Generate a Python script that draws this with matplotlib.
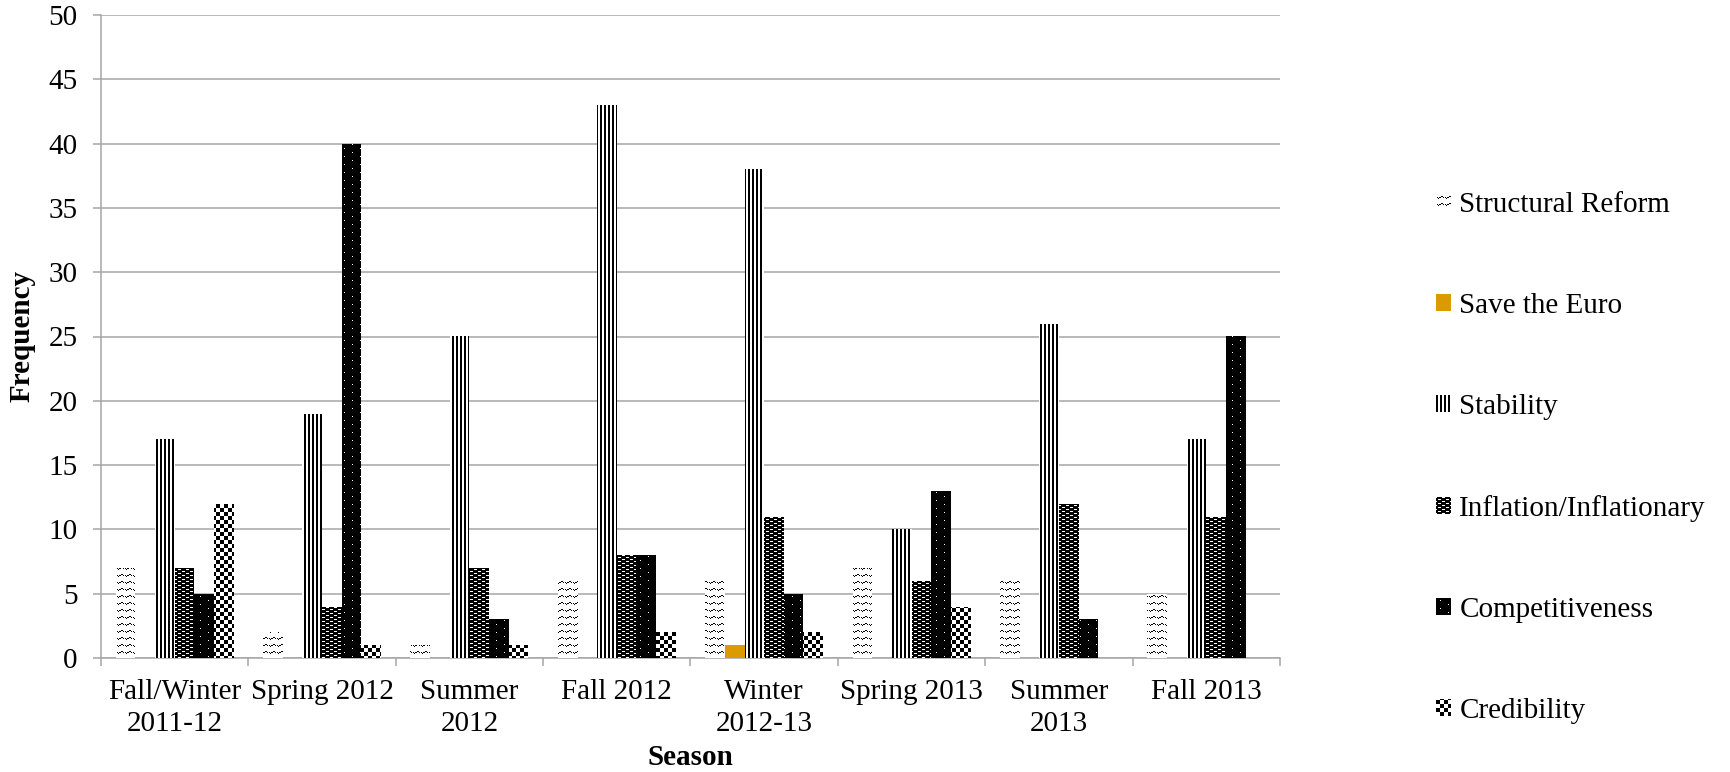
import numpy as np
import matplotlib
matplotlib.use("Agg")
import matplotlib.pyplot as plt
from matplotlib.patches import Patch

# ---- data -------------------------------------------------------------
seasons = ["Fall/Winter\n2011-12", "Spring 2012", "Summer\n2012", "Fall 2012",
           "Winter\n2012-13", "Spring 2013", "Summer\n2013", "Fall 2013"]
series_names = ["Structural Reform", "Save the Euro", "Stability",
                "Inflation/Inflationary", "Competitiveness", "Credibility"]
structural_reform = [7, 2, 1, 6, 6, 7, 6, 5]
save_the_euro = [0, 0, 0, 0, 1, 0, 0, 0]
stability = [17, 19, 25, 43, 38, 10, 26, 17]
inflation = [7, 4, 7, 8, 11, 6, 12, 11]
competitiveness = [5, 40, 3, 8, 5, 13, 3, 25]
credibility = [12, 1, 1, 2, 2, 4, 0, 0]
y_ticks = [0, 5, 10, 15, 20, 25, 30, 35, 40, 45, 50]

series_values = [structural_reform, save_the_euro, stability,
                 inflation, competitiveness, credibility]

# ---- pixel fill patterns (1 = ink) -----------------------------------
def tile(rows):
    return np.array([[int(c) for c in r] for r in rows], dtype=bool)

patterns = {
    "Structural Reform": tile(["01100000",
                               "10010101",
                               "00000010",
                               "00000000",
                               "00000000",
                               "00000000",
                               "00000000"]),
    "Stability": tile(["1100"]),
    "Inflation/Inflationary": tile(["11111111",
                                    "11000111",
                                    "11111111",
                                    "01111100"]),
    "Competitiveness": tile(["0111111111111111",
                             "1111111111111111",
                             "1111111111111111",
                             "1111111111111111",
                             "1111111101111111",
                             "1111111111111111",
                             "1111111111111111",
                             "1111111111111111"]),
    "Credibility": tile(["11110000",
                         "11110000",
                         "11110000",
                         "11110000",
                         "00001111",
                         "00001111",
                         "00001111",
                         "00001111"]),
}
euro_color = "#DB9A00"
grid_color = "#A6A6A6"

W_PX, H_PX = 1731, 772
plt.rcParams["font.family"] = ["Liberation Serif", "DejaVu Serif"]
FS = 21

fig = plt.figure(figsize=(W_PX / 100, H_PX / 100), dpi=100)
ax = fig.add_axes([101 / W_PX, 1 - 658 / H_PX, 1179 / W_PX, 643 / H_PX])

n_cat = len(seasons)
n_ser = len(series_names)
bar_w = 1 / 7.5
x = np.arange(n_cat)

bar_groups = []
for i, (name, vals) in enumerate(zip(series_names, series_values)):
    offs = (i - (n_ser - 1) / 2) * bar_w
    if name in patterns:
        bc = ax.bar(x + offs, vals, width=bar_w, color="none",
                    edgecolor="none", zorder=3)
    else:
        bc = ax.bar(x + offs, vals, width=bar_w, color=euro_color,
                    edgecolor="none", zorder=3)
    bar_groups.append((name, bc))

ax.set_xlim(-0.5, n_cat - 0.5)
ax.set_ylim(0, 50)
ax.set_yticks(y_ticks)
ax.set_yticklabels([str(v) for v in y_ticks], fontsize=FS)
ax.yaxis.grid(True, color=grid_color, linewidth=1.1, zorder=0)
ax.set_axisbelow(True)

# category boundaries carry tick marks; names sit at centres
ax.set_xticks(np.arange(n_cat + 1) - 0.5)
ax.set_xticklabels([])
ax.set_xticks(x, minor=True)
ax.set_xticklabels(seasons, minor=True, fontsize=FS, linespacing=1.3)
ax.tick_params(axis="x", which="major", direction="out", length=6,
               color=grid_color, width=1.1)
ax.tick_params(axis="x", which="minor", length=0, pad=15)
ax.tick_params(axis="y", direction="out", length=6, color=grid_color,
               width=1.1, pad=11)

for s in ["top", "right"]:
    ax.spines[s].set_visible(False)
for s in ["left", "bottom"]:
    ax.spines[s].set_color(grid_color)
    ax.spines[s].set_linewidth(1.1)

ax.set_xlabel("Season", fontsize=FS, fontweight="bold", labelpad=5)
ax.set_ylabel("Frequency", fontsize=FS, fontweight="bold", labelpad=9)

handles = []
for name in series_names:
    if name in patterns:
        handles.append(Patch(facecolor="none", edgecolor="none", label=name))
    else:
        handles.append(Patch(facecolor=euro_color, edgecolor="none", label=name))
leg = ax.legend(handles=handles, loc="center left",
                bbox_to_anchor=(1436 / W_PX, 1 - 458 / H_PX),
                bbox_transform=fig.transFigure, frameon=False, fontsize=FS,
                handlelength=0.5, handleheight=0.5, handletextpad=0.3,
                labelspacing=2.57, borderpad=0, borderaxespad=0)

fig.canvas.draw()
renderer = fig.canvas.get_renderer()


def paint(patch, pat):
    """Fill a rectangle's pixel footprint with a screen-anchored pattern."""
    bb = patch.get_window_extent(renderer)
    x0, x1 = int(round(bb.x0)), int(round(bb.x1))
    y0, y1 = int(round(bb.y0)), int(round(bb.y1))
    w, h = x1 - x0, y1 - y0
    if w <= 0 or h <= 0:
        return
    rows = (H_PX - y1 + np.arange(h)) % pat.shape[0]
    cols = (x0 + np.arange(w)) % pat.shape[1]
    ink = pat[np.ix_(rows, cols)]
    img = np.ones((h, w, 3))
    img[ink] = 0.0
    fig.figimage(img, xo=x0, yo=y0, origin="upper", zorder=2)


for name, bc in bar_groups:
    if name in patterns:
        for p in bc.patches:
            paint(p, patterns[name])

for name, p in zip(series_names, leg.get_patches()):
    if name in patterns:
        paint(p, patterns[name])

fig.savefig("out.png", dpi=100)
